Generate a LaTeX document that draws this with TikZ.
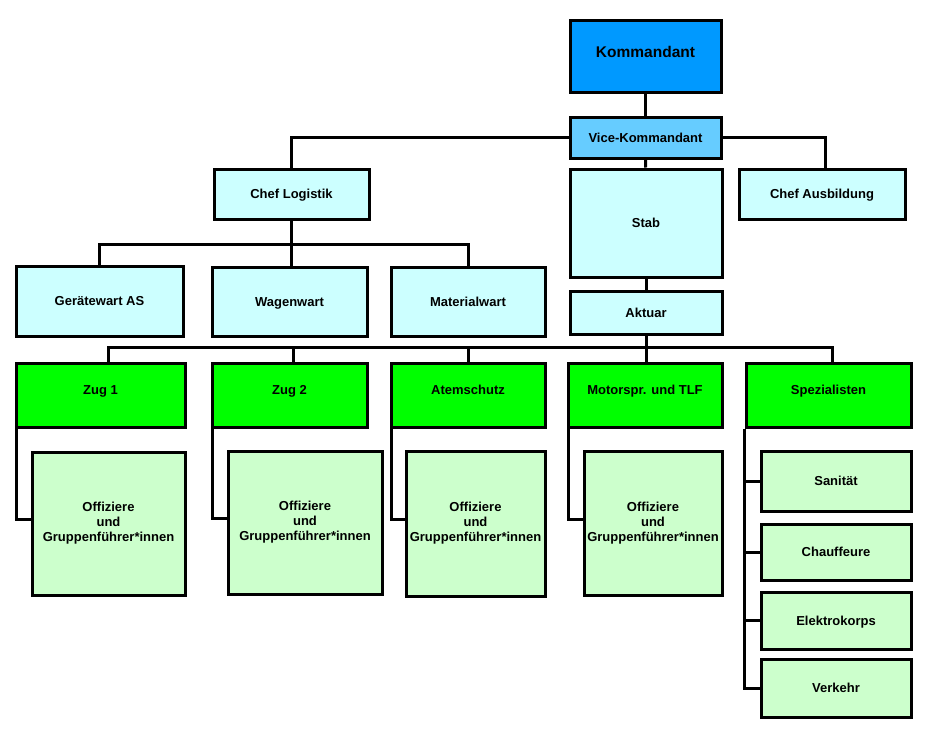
\documentclass[tikz,border=0pt]{standalone}
\usepackage{fontspec}
\setmainfont{Liberation Sans}
\usetikzlibrary{calc}
\definecolor{cKom}{HTML}{0099FF}
\definecolor{cVice}{HTML}{66CCFF}
\definecolor{cLight}{HTML}{CCFFFF}
\definecolor{cGreen}{HTML}{00FF00}
\definecolor{cLGreen}{HTML}{CCFFCC}
\tikzset{
  box/.style={draw=black, line width=3pt, inner sep=2pt, align=center,
    font=\fontsize{13}{15}\selectfont\bfseries, text=black},
  single/.style={text height=9.4pt, text depth=0pt},
  upper/.style={text height=9.4pt, text depth=10pt},
  wire/.style={draw=black, line width=3pt},
}
\newcommand{\bx}[8][single]{\node[box, #1, fill=#2, minimum width=#6pt, minimum height=#7pt] (#3) at (#4,#5) {#8};}
\begin{document}
\begin{tikzpicture}[x=1pt,y=-1pt]
\useasboundingbox (0,0) rectangle (930,731);
\bx[text height=11pt, text depth=8pt, font=\fontsize{15.5}{18}\selectfont\bfseries]{cKom}{kom}{645.5}{56}{151}{72}{Kommandant}
\bx{cVice}{vice}{645.5}{137.5}{151}{41}{Vice-Kommandant}
\bx{cLight}{logistik}{291.5}{194}{155}{50}{Chef Logistik}
\bx{cLight}{ausb}{822}{194}{166}{50}{Chef Ausbildung}
\bx{cLight}{stab}{646}{223}{152}{108}{Stab}
\bx{cLight}{aktuar}{646}{312.5}{152}{43}{Aktuar}
\bx{cLight}{geraete}{99.5}{301}{167}{70}{Gerätewart AS}
\bx{cLight}{wagen}{289.5}{301.5}{155}{69}{Wagenwart}
\bx{cLight}{mat}{468}{301.5}{154}{69}{Materialwart}
\bx[upper]{cGreen}{zug1}{100.5}{395}{169}{64}{Zug 1}
\bx[upper]{cGreen}{zug2}{289.5}{395}{155}{64}{Zug 2}
\bx[upper]{cGreen}{atem}{468}{395}{154}{64}{Atemschutz}
\bx[upper]{cGreen}{motor}{645}{395}{154}{64}{Motorspr. und TLF}
\bx[upper]{cGreen}{spez}{828.5}{395}{165}{64}{Spezialisten}
\bx[]{cLGreen}{off1}{108.5}{523.5}{153}{143}{Offiziere\\und\\Gruppenführer*innen}
\bx[]{cLGreen}{off2}{305}{522.5}{154}{143}{Offiziere\\und\\Gruppenführer*innen}
\bx[]{cLGreen}{off3}{475.5}{523.5}{139}{145}{Offiziere\\und\\Gruppenführer*innen}
\bx[]{cLGreen}{off4}{653}{523}{138}{144}{Offiziere\\und\\Gruppenführer*innen}
\bx{cLGreen}{san}{836}{481}{150}{60}{Sanität}
\bx{cLGreen}{chauf}{836}{552}{150}{56}{Chauffeure}
\bx{cLGreen}{elek}{836}{620.5}{150}{57}{Elektrokorps}
\bx{cLGreen}{verk}{836}{688}{150}{58}{Verkehr}
% top connectors
\draw[wire] (kom) -- (vice);
\draw[wire] (vice) -- (stab);
\draw[wire] (stab) -- (aktuar);
\draw[wire] (vice.west) -| (logistik.north);
\draw[wire] (vice.east) -| ([xshift=3pt]ausb.north);
% logistik bus
\coordinate (busL) at (292,244);
\draw[wire] (logistik.south) -- (logistik.south |- wagen.north);
\draw[wire] (geraete.north) |- (mat.north |- busL) -- (mat.north);
% aktuar bus
\coordinate (busA) at (646,347);
\draw[wire] (aktuar.south) -- (aktuar.south |- motor.north);
\draw[wire] ([xshift=8pt]zug1.north) |- ([xshift=3.5pt]spez.north |- busA) -- ([xshift=3.5pt]spez.north);
\draw[wire] ([xshift=3.5pt]zug2.north) -- ([xshift=3.5pt]zug2.north |- busA);
\draw[wire] (atem.north) -- (atem.north |- busA);
% zug to offiziere
\draw[wire] ([xshift=1.5pt]zug1.south west) |- ([yshift=4pt]off1.west);
\draw[wire] ([xshift=1.5pt]zug2.south west) |- ([yshift=4pt]off2.west);
\draw[wire] ([xshift=1.5pt]atem.south west) |- ([yshift=4pt]off3.west);
\draw[wire] ([xshift=1.5pt]motor.south west) |- ([yshift=4pt]off4.west);
% spezialisten
\draw[wire] (spez.south west) |- (verk.west);
\draw[wire] (spez.south west |- san.west) -- (san.west);
\draw[wire] (spez.south west |- chauf.west) -- (chauf.west);
\draw[wire] (spez.south west |- elek.west) -- (elek.west);
\end{tikzpicture}
\end{document}
